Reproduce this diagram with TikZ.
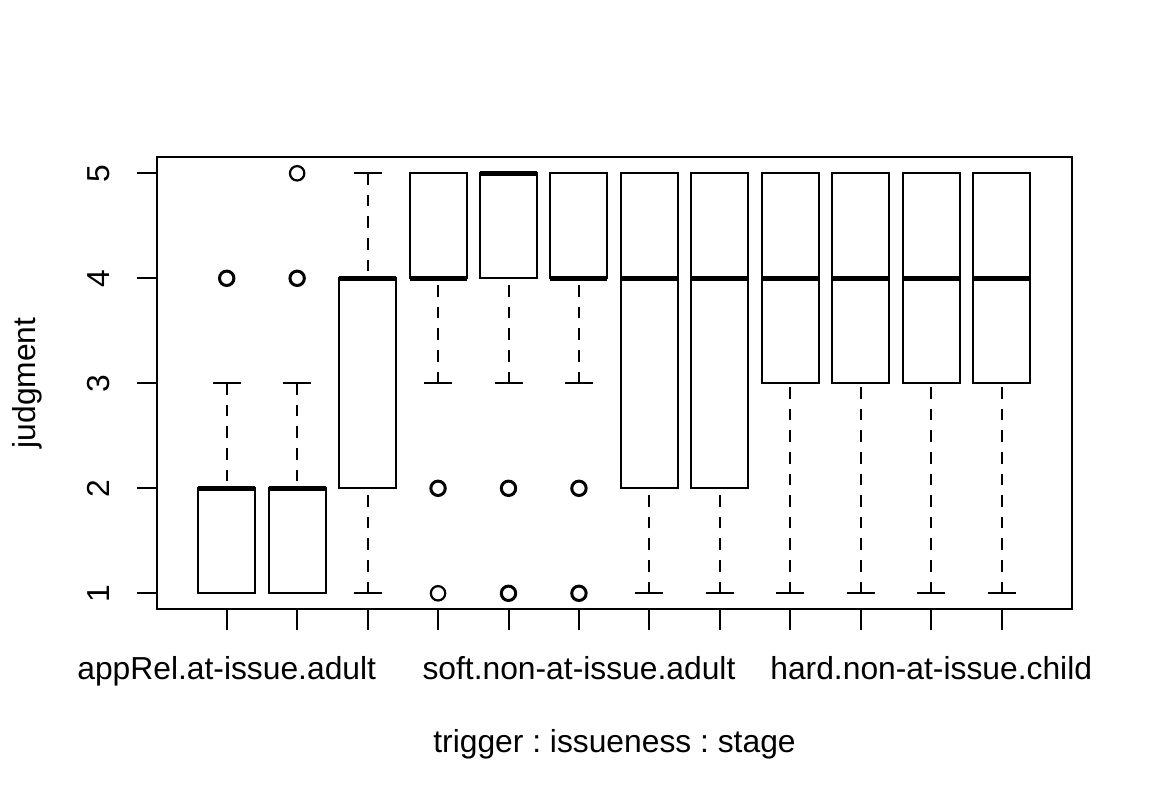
\documentclass[tikz,border=0pt]{standalone}
\usepackage{fontspec}
\setmainfont{Liberation Sans}
\frenchspacing
\tikzset{
  bxline/.style={line width=1pt, line cap=butt, line join=miter},
  whisk/.style={line width=1pt, dash pattern=on 5.8pt off 5pt},
  medline/.style={line width=2.7pt, line cap=butt},
  outl/.style={line width=1.1pt},
  outlb/.style={line width=1.5pt},
  lbl/.style={font=\fontsize{15.9}{18}\selectfont, inner sep=0pt},
}
\newcommand{\mybox}[6]{% #1 index, #2 wlo, #3 q1, #4 med, #5 q3, #6 whi
  \pgfmathsetmacro\bcx{226.7+(#1-1)*70.45}
  \pgfmathsetmacro\bya{173.3+(5-#2)*105}
  \pgfmathsetmacro\byb{173.3+(5-#3)*105}
  \pgfmathsetmacro\byc{173.3+(5-#4)*105}
  \pgfmathsetmacro\byd{173.3+(5-#5)*105}
  \pgfmathsetmacro\bye{173.3+(5-#6)*105}
  \draw[whisk] (\bcx,\bya) -- (\bcx,\byb);
  \draw[whisk] (\bcx,\bye) -- (\bcx,\byd);
  \draw[bxline] (\bcx-14,\bya) -- (\bcx+14,\bya);
  \draw[bxline] (\bcx-14,\bye) -- (\bcx+14,\bye);
  \draw[bxline] (\bcx-28.5,\byb) rectangle (\bcx+28.5,\byd);
  \draw[medline] (\bcx-28.5,\byc) -- (\bcx+28.5,\byc);
}
\newcommand{\myout}[3]{% #1 index, #2 value, #3 style
  \pgfmathsetmacro\bcx{226.7+(#1-1)*70.45}
  \pgfmathsetmacro\bya{173.3+(5-#2)*105}
  \draw[#3] (\bcx,\bya) circle[radius=3.6pt];
}
\begin{document}
\begin{tikzpicture}[x=0.5pt,y=-0.5pt]
\useasboundingbox (0,0) rectangle (1152,806);
% boxes
\mybox{1}{1}{1}{2}{2}{3}
\mybox{2}{1}{1}{2}{2}{3}
\mybox{3}{1}{2}{4}{4}{5}
\mybox{4}{3}{4}{4}{5}{5}
\mybox{5}{3}{4}{5}{5}{5}
\mybox{6}{3}{4}{4}{5}{5}
\mybox{7}{1}{2}{4}{5}{5}
\mybox{8}{1}{2}{4}{5}{5}
\mybox{9}{1}{3}{4}{5}{5}
\mybox{10}{1}{3}{4}{5}{5}
\mybox{11}{1}{3}{4}{5}{5}
\mybox{12}{1}{3}{4}{5}{5}
% outliers
\myout{1}{4}{outlb}
\myout{2}{4}{outlb}
\myout{2}{5}{outl}
\myout{4}{2}{outlb}
\myout{4}{1}{outl}
\myout{5}{2}{outlb}
\myout{5}{1}{outlb}
\myout{6}{2}{outlb}
\myout{6}{1}{outlb}
% frame
\draw[bxline] (157.3,156.7) rectangle (1071.7,609.5);
% y axis ticks and labels
\foreach \v in {1,...,5} {
  \pgfmathsetmacro\ty{173.3+(5-\v)*105}
  \draw[bxline] (137,\ty) -- (157.3,\ty);
  \node[lbl, rotate=90] (ylab\v) at (98.5,\ty) {\v};
}
% x axis ticks
\foreach \i in {1,...,12} {
  \pgfmathsetmacro\tx{226.7+(\i-1)*70.45}
  \draw[bxline] (\tx,609.5) -- (\tx,630);
}
\node[lbl, anchor=base] (xl1) at (226.7,680) {appRel.at-issue.adult};
\node[lbl, anchor=base] (xl6) at (578.95,680) {soft.non-at-issue.adult};
\node[lbl, anchor=base] (xl11) at (931.2,680) {hard.non-at-issue.child};
\node[lbl, anchor=base] (xtitle) at (614.5,753) {trigger : issueness : stage};
\node[lbl, anchor=base, rotate=90] (ytitle) at (35,383) {judgment};
\end{tikzpicture}
\end{document}
